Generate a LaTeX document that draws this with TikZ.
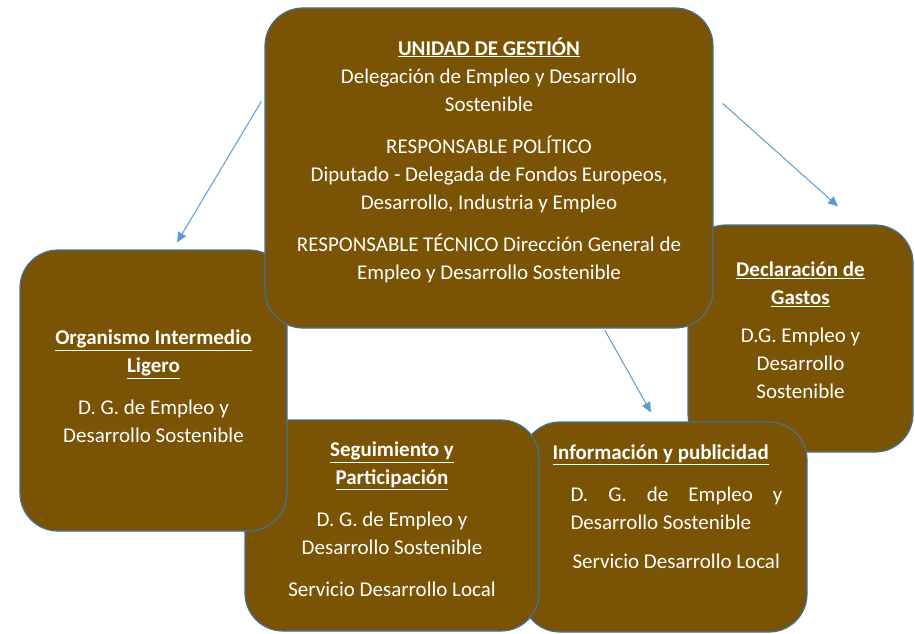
\documentclass[tikz,border=0pt]{standalone}
\usepackage{fontspec}
\setmainfont{Carlito}
\usepackage{xcolor}
\usepackage{tikz}
\definecolor{boxbrown}{RGB}{122,83,4}
\definecolor{borderslate}{RGB}{65,113,156}
\definecolor{arrowblue}{RGB}{91,155,213}
\usetikzlibrary{arrows.meta,calc}

\begin{document}
\begin{tikzpicture}[
    x=1pt, y=-1pt,
    box/.style={rectangle, rounded corners=38pt, inner sep=0pt, fill=boxbrown, draw=borderslate, line width=1.2pt},
    boxtext/.style={align=center, text=white, font=\fontsize{21}{28}\selectfont},
    arrow/.style={-{Triangle[length=10pt,width=9pt]}, arrowblue, line width=1pt}
]
\useasboundingbox (0,0) rectangle (915,634);

% boxes, back to front
\node[box, minimum width=225pt, minimum height=227pt] (declaracion) at (800.5,338.5) {};
\node[box, minimum width=285pt, minimum height=210pt] (informacion) at (664.5,527) {};
\node[box, minimum width=294pt, minimum height=211pt] (seguimiento) at (392,525.5) {};
\node[box, minimum width=267pt, minimum height=281pt] (organismo) at (153.5,390.5) {};
\node[box, minimum width=448pt, minimum height=320pt] (gestion) at (489,168) {};

% texts
\node[boxtext] (gestion-txt) at ($(gestion)+(0,-8)$) {\underline{\textbf{UNIDAD DE GESTIÓN}}\\
    Delegación de Empleo y Desarrollo\\
    Sostenible\\[14pt]
    RESPONSABLE POLÍTICO\\
    Diputado - Delegada de Fondos Europeos,\\
    Desarrollo, Industria y Empleo\\[14pt]
    RESPONSABLE TÉCNICO Dirección General de\\
    Empleo y Desarrollo Sostenible};
\node[boxtext] (organismo-txt) at ($(organismo)+(0,-4)$) {\underline{\textbf{Organismo Intermedio}}\\
    \underline{\textbf{Ligero}}\\[14pt]
    D. G. de Empleo y\\
    Desarrollo Sostenible};
\node[boxtext] (seguimiento-txt) at ($(seguimiento)+(0,-6)$) {\underline{\textbf{Seguimiento y}}\\
    \underline{\textbf{Participación}}\\[14pt]
    D. G. de Empleo y\\
    Desarrollo Sostenible\\[14pt]
    Servicio Desarrollo Local};
\node[boxtext, align=flush left, text width=212pt] (informacion-txt) at ($(informacion)+(12,-20)$) {\hspace*{-18pt}\underline{\textbf{Información y publicidad}}\\[14pt]
    \makebox[212pt][s]{D.\ G.\ de Empleo y}\\
    Desarrollo Sostenible\\[11pt]
    \hspace*{2pt}Servicio Desarrollo Local};
\node[boxtext] (declaracion-txt) at ($(declaracion)+(0,-8)$) {\underline{\textbf{Declaración de}}\\
    \underline{\textbf{Gastos}}\\[10pt]
    D.G. Empleo y\\
    Desarrollo\\
    Sostenible};

% arrows
\draw[arrow] ($(gestion.north west)+(-3,94)$) -- ($(organismo.north)+(23.5,-7)$);
\draw[arrow] ($(gestion.north east)+(9,96)$) -- ($(declaracion.north)+(37.5,-18)$);
\draw[arrow] ($(gestion.south)+(116,2)$) -- ($(informacion.north)+(-13.5,-9)$);

\end{tikzpicture}
\end{document}
